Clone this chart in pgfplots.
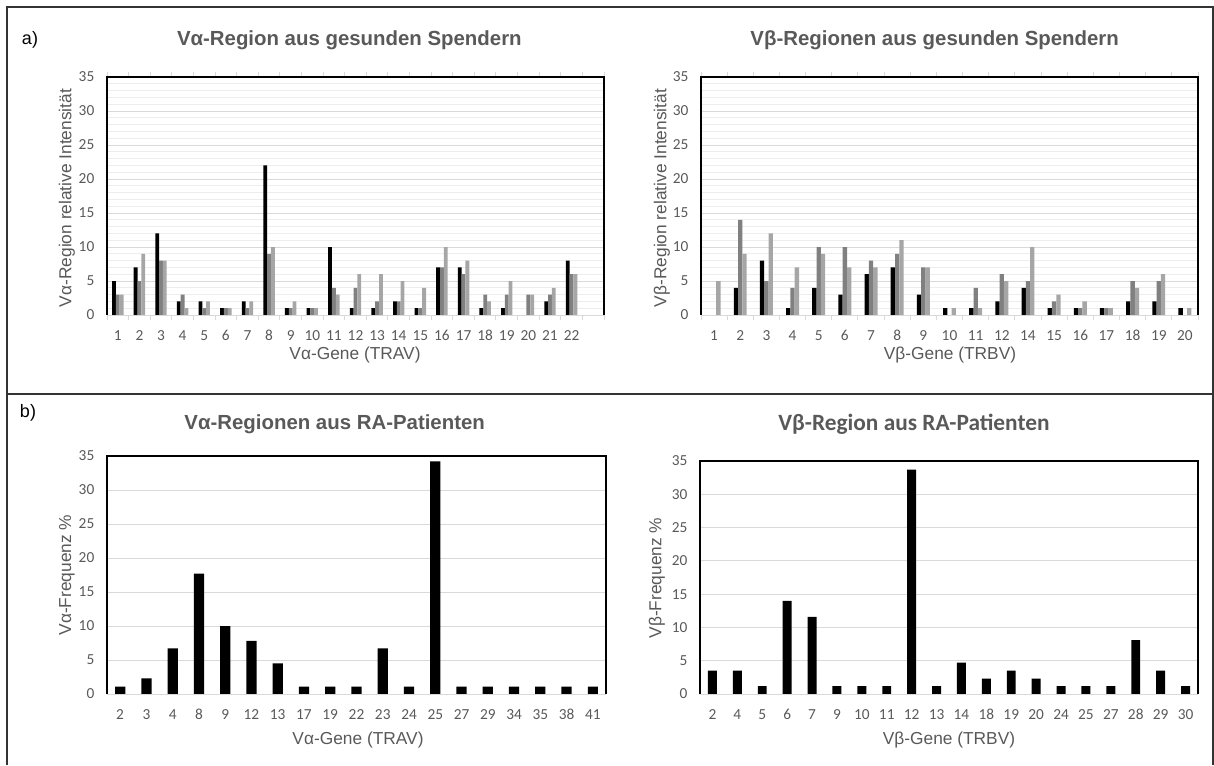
\documentclass[border=0pt]{standalone}
\usepackage{fontspec}
\setmainfont{Liberation Sans}
\newfontfamily\carlito[Numbers=Lining]{Carlito}
\usepackage{pgfplots}
\pgfplotsset{compat=1.18}
\definecolor{tgray}{HTML}{595959}
\definecolor{gmaj}{HTML}{D9D9D9}
\definecolor{gmin}{HTML}{EDEDED}
\definecolor{sdark}{HTML}{808080}
\definecolor{slight}{HTML}{A6A6A6}
\newcommand{\tickf}{\carlito\fontsize{11.5}{13}\selectfont}
\newcommand{\labf}{\fontsize{13}{15}\selectfont}
\newcommand{\titf}{\bfseries\fontsize{15.3}{17}\selectfont}
\newcommand{\panelframe}{%
  \draw[gmaj, line width=0.75pt] (rel axis cs:0,0) -- (rel axis cs:1,0);
  \draw[black, line width=1pt] (rel axis cs:0,0) -- (rel axis cs:0,1) -- (rel axis cs:1,1) -- (rel axis cs:1,0);}
\pgfplotsset{
  panel/.style={scale only axis, anchor=south west, clip=false,
    ymin=0, ymax=35, ytick={0,5,...,35},
    axis line style={draw=none},
    ymajorgrids, major grid style={draw=gmaj, line width=0.75pt},
    ytick style={draw=none}, major tick length=0pt,
    yticklabel style={font=\tickf, text=tgray, xshift=-6pt},
    xticklabel style={font=\tickf, text=tgray, yshift=-7pt, text height=1.6ex, text depth=0pt},
    /pgf/number format/assume math mode=true,
  },
  toppanel/.style={panel,
    yminorgrids, minor y tick num=4, minor grid style={draw=gmin, line width=0.75pt},
    minor tick length=4pt, tick align=outside,
    xtick style={draw=gmaj, line width=0.75pt},
  },
}
\begin{document}
\begin{tikzpicture}
\useasboundingbox (0,0) rectangle (910.5pt,573.75pt);
% frame
\draw[black!80, line width=1pt] (5.25pt,0) -- (5.25pt,568.5pt) -- (909.75pt,568.5pt) -- (909.75pt,0);
\draw[black!80, line width=1pt] (5.25pt,278.25pt) -- (909.75pt,278.25pt);
\node[font=\fontsize{13.5}{15}\selectfont] at (22.5pt,543.75pt) {a)};
\node[font=\fontsize{13.5}{15}\selectfont] at (21pt,264pt) {b)};

% ---------- top left
\begin{axis}[toppanel, at={(80.25pt,337.5pt)}, width=372.75pt, height=178.5pt,
  xmin=0.5, xmax=23.5, xtick={1,...,22}, minor xtick={0.5,1.5,...,23.5}]
\addplot[ybar, fill=black, draw=none, bar width=0.176, bar shift=-0.176] coordinates {(1,5)(2,7)(3,12)(4,2)(5,2)(6,1)(7,2)(8,22)(9,1)(10,1)(11,10)(12,1)(13,1)(14,2)(15,1)(16,7)(17,7)(18,1)(19,1)(20,0)(21,2)(22,8)};
\addplot[ybar, fill=sdark, draw=none, bar width=0.176, bar shift=0] coordinates {(1,3)(2,5)(3,8)(4,3)(5,1)(6,1)(7,1)(8,9)(9,1)(10,1)(11,4)(12,4)(13,2)(14,2)(15,1)(16,7)(17,6)(18,3)(19,3)(20,3)(21,3)(22,6)};
\addplot[ybar, fill=slight, draw=none, bar width=0.176, bar shift=0.176] coordinates {(1,3)(2,9)(3,8)(4,1)(5,2)(6,1)(7,2)(8,10)(9,2)(10,1)(11,3)(12,6)(13,6)(14,5)(15,4)(16,10)(17,8)(18,2)(19,5)(20,3)(21,4)(22,6)};
\panelframe
\end{axis}

% ---------- top right
\begin{axis}[toppanel, at={(525.75pt,337.5pt)}, width=372.75pt, height=178.5pt,
  xmin=0.5, xmax=19.5, xtick={1,...,19}, minor xtick={0.5,1.5,...,19.5},
  xticklabels={1,2,3,4,5,6,7,8,9,10,11,12,14,15,16,17,18,19,20}]
\addplot[ybar, fill=black, draw=none, bar width=0.165, bar shift=-0.165] coordinates {(1,0)(2,4)(3,8)(4,1)(5,4)(6,3)(7,6)(8,7)(9,3)(10,1)(11,1)(12,2)(13,4)(14,1)(15,1)(16,1)(17,2)(18,2)(19,1)};
\addplot[ybar, fill=sdark, draw=none, bar width=0.165, bar shift=0] coordinates {(1,0)(2,14)(3,5)(4,4)(5,10)(6,10)(7,8)(8,9)(9,7)(10,0)(11,4)(12,6)(13,5)(14,2)(15,1)(16,1)(17,5)(18,5)(19,0)};
\addplot[ybar, fill=slight, draw=none, bar width=0.165, bar shift=0.165] coordinates {(1,5)(2,9)(3,12)(4,7)(5,9)(6,7)(7,7)(8,11)(9,7)(10,1)(11,1)(12,5)(13,10)(14,3)(15,2)(16,1)(17,4)(18,6)(19,1)};
\panelframe
\end{axis}

% ---------- bottom left
\begin{axis}[panel, at={(80.25pt,53.25pt)}, width=374.25pt, height=178.5pt,
  xmin=0.5, xmax=19.5, xtick={1,...,19},
  xticklabels={2,3,4,8,9,12,13,17,19,22,23,24,25,27,29,34,35,38,41}]
\addplot[ybar, fill=black, draw=none, bar width=0.39, bar shift=0] coordinates {(1,1.1)(2,2.3)(3,6.7)(4,17.7)(5,10.0)(6,7.8)(7,4.5)(8,1.1)(9,1.1)(10,1.1)(11,6.7)(12,1.1)(13,34.2)(14,1.1)(15,1.1)(16,1.1)(17,1.1)(18,1.1)(19,1.1)};
\panelframe
\end{axis}

% ---------- bottom right
\begin{axis}[panel, at={(525pt,53.25pt)}, width=373.5pt, height=174.75pt,
  xmin=0.5, xmax=20.5, xtick={1,...,20},
  xticklabels={2,4,5,6,7,9,10,11,12,13,14,18,19,20,24,25,27,28,29,30}]
\addplot[ybar, fill=black, draw=none, bar width=0.36, bar shift=0] coordinates {(1,3.5)(2,3.5)(3,1.2)(4,14.0)(5,11.6)(6,1.2)(7,1.2)(8,1.2)(9,33.7)(10,1.2)(11,4.7)(12,2.3)(13,3.5)(14,2.3)(15,1.2)(16,1.2)(17,1.2)(18,8.1)(19,3.5)(20,1.2)};
\panelframe
\end{axis}

% titles
\node[font=\titf, text=tgray] at (262pt,543.75pt) {Vα-Region aus gesunden Spendern};
\node[font=\titf, text=tgray] at (701pt,543.75pt) {Vβ-Regionen aus gesunden Spendern};
\node[font=\titf, text=tgray] at (251pt,255.75pt) {Vα-Regionen aus RA-Patienten};
\node[font=\carlito\bfseries\fontsize{17.5}{19}\selectfont, text=tgray] at (685.5pt,255.75pt) {Vβ-Region aus RA-Patienten};
% axis labels
\node[font=\labf, text=tgray] at (266.25pt,307.5pt) {Vα-Gene (TRAV)};
\node[font=\labf, text=tgray] at (712.5pt,307.5pt) {Vβ-Gene (TRBV)};
\node[font=\labf, text=tgray, rotate=90] at (50.25pt,425.25pt) {Vα-Region relative Intensität};
\node[font=\labf, text=tgray, rotate=90] at (496.5pt,425.25pt) {Vβ-Region relative Intensität};
\node[font=\labf, text=tgray] at (268.5pt,18.75pt) {Vα-Gene (TRAV)};
\node[font=\labf, text=tgray] at (711.75pt,18.75pt) {Vβ-Gene (TRBV)};
\node[font=\labf, text=tgray, rotate=90] at (50.25pt,142.5pt) {Vα-Frequenz \%};
\node[font=\labf, text=tgray, rotate=90] at (492.75pt,140.25pt) {Vβ-Frequenz \%};
\end{tikzpicture}
\end{document}
